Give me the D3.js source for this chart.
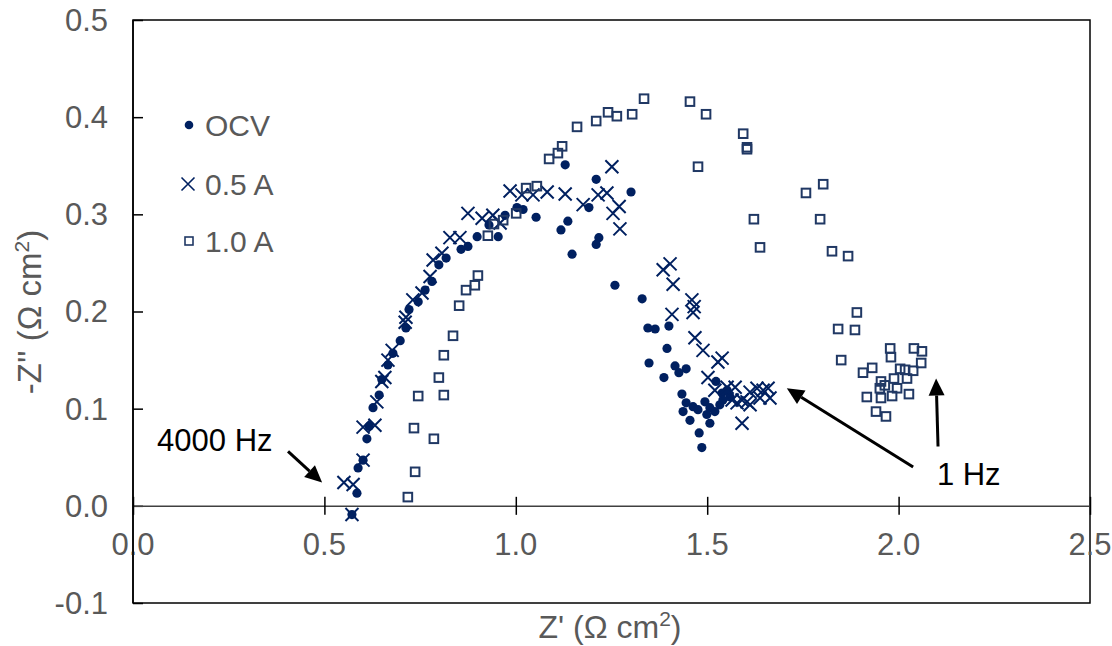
<!DOCTYPE html>
<html><head><meta charset="utf-8">
<script src="https://cdn.jsdelivr.net/npm/d3@7"></script>
<style>body{margin:0;background:#fff}svg{display:block}</style>
</head><body>
<script>
// ---- data ----
const seriesNames = ["OCV", "0.5 A", "1.0 A"];
const xTicks = [0.0, 0.5, 1.0, 1.5, 2.0, 2.5];
const yTicks = [-0.1, 0.0, 0.1, 0.2, 0.3, 0.4, 0.5];
const ocv = [[0.572,-0.009],[0.585,0.013],[0.588,0.039],[0.601,0.047],[0.611,0.069],[0.617,0.082],[0.627,0.101],[0.643,0.114],[0.650,0.130],[0.666,0.145],[0.679,0.157],[0.698,0.170],[0.713,0.183],[0.721,0.202],[0.745,0.210],[0.763,0.222],[0.781,0.231],[0.799,0.248],[0.818,0.255],[0.857,0.264],[0.875,0.267],[0.899,0.277],[0.930,0.289],[0.954,0.277],[0.972,0.299],[1.003,0.307],[1.019,0.305],[1.053,0.297],[1.129,0.351],[1.210,0.336],[1.191,0.307],[1.136,0.293],[1.118,0.284],[1.217,0.276],[1.210,0.269],[1.147,0.259],[1.301,0.323],[1.259,0.227],[1.330,0.213],[1.345,0.183],[1.364,0.182],[1.400,0.185],[1.395,0.162],[1.348,0.147],[1.416,0.144],[1.445,0.141],[1.426,0.137],[1.387,0.132],[1.523,0.128],[1.434,0.115],[1.445,0.106],[1.437,0.097],[1.455,0.088],[1.463,0.102],[1.476,0.099],[1.494,0.107],[1.507,0.101],[1.520,0.097],[1.539,0.116],[1.552,0.119],[1.560,0.112],[1.541,0.109],[1.507,0.085],[1.479,0.075],[1.486,0.060],[1.533,0.104],[1.499,0.094]];
const a05 = [[0.551,0.024],[0.575,0.022],[0.572,-0.009],[0.601,0.047],[0.601,0.081],[0.632,0.083],[0.637,0.107],[0.650,0.128],[0.658,0.132],[0.666,0.150],[0.677,0.160],[0.711,0.189],[0.713,0.194],[0.731,0.212],[0.755,0.219],[0.776,0.236],[0.784,0.253],[0.807,0.260],[0.828,0.276],[0.854,0.276],[0.875,0.301],[0.912,0.296],[0.940,0.299],[0.959,0.291],[0.985,0.324],[1.016,0.320],[1.045,0.320],[1.082,0.323],[1.129,0.321],[1.176,0.310],[1.215,0.320],[1.238,0.322],[1.251,0.349],[1.254,0.301],[1.270,0.308],[1.272,0.285],[1.385,0.243],[1.403,0.249],[1.411,0.228],[1.408,0.197],[1.460,0.212],[1.466,0.205],[1.463,0.199],[1.468,0.173],[1.489,0.160],[1.528,0.148],[1.539,0.152],[1.502,0.132],[1.520,0.119],[1.552,0.122],[1.573,0.122],[1.565,0.109],[1.591,0.109],[1.591,0.085],[1.612,0.117],[1.630,0.121],[1.646,0.119],[1.659,0.121],[1.612,0.104],[1.638,0.111],[1.664,0.111],[1.604,0.107],[1.578,0.106]];
const a10 = [[0.718,0.009],[0.737,0.035],[0.734,0.080],[0.786,0.069],[0.745,0.113],[0.812,0.114],[0.799,0.132],[0.812,0.155],[0.836,0.175],[0.852,0.206],[0.870,0.222],[0.893,0.227],[0.901,0.237],[0.927,0.278],[0.943,0.290],[0.967,0.294],[1.001,0.301],[1.027,0.327],[1.055,0.329],[1.087,0.357],[1.110,0.363],[1.121,0.370],[1.160,0.390],[1.210,0.396],[1.241,0.405],[1.264,0.401],[1.304,0.403],[1.335,0.419],[1.455,0.416],[1.497,0.403],[1.594,0.383],[1.604,0.369],[1.604,0.367],[1.476,0.349],[1.758,0.322],[1.803,0.331],[1.622,0.295],[1.795,0.295],[1.638,0.266],[1.826,0.262],[1.868,0.257],[1.891,0.199],[1.842,0.182],[1.886,0.181],[1.850,0.150],[1.907,0.137],[1.931,0.142],[1.954,0.128],[1.964,0.124],[1.951,0.121],[1.978,0.162],[1.980,0.153],[2.040,0.162],[2.061,0.159],[2.059,0.147],[2.004,0.141],[2.017,0.140],[2.038,0.139],[1.988,0.131],[2.022,0.131],[1.996,0.121],[1.917,0.112],[1.954,0.111],[1.983,0.113],[2.027,0.115],[1.941,0.097],[1.967,0.092]];
const annoLabels = ["4000 Hz", "1 Hz"];
const annoTextPos = [[0.063,0.056],[2.100,0.0216]];
const arrows = [[[0.405,0.056],[0.494,0.024]],[[2.038,0.040],[1.708,0.121]],[[2.103,0.061],[2.098,0.131]]];

// ---- chart ----
const W = 1112, H = 646;
const L = 133, R = 1090, T = 20, B = 603;
const svg = d3.select("body").append("svg").attr("width", W).attr("height", H)
  .style("font-family", "Liberation Sans, Arial, sans-serif");
const x = d3.scaleLinear().domain([0, 2.5]).range([L, R]);
const y = d3.scaleLinear().domain([-0.1, 0.5]).range([B, T]);
const grey = "#595959";
const navy = "#002060";
const sqCol = "#203864";
const fmt = d => d3.format(".1f")(d).replace("\u2212", "-");

// frame
svg.append("rect").attr("x", L).attr("y", T).attr("width", R - L).attr("height", B - T)
  .attr("fill", "none").attr("stroke", "#000").attr("stroke-width", 1.5);

// y axis (ticks inside)
const yAxis = d3.axisRight(y).tickValues(yTicks).tickSize(10).tickFormat("");
const gy = svg.append("g").attr("transform", `translate(${L},0)`).call(yAxis);
gy.select(".domain").remove();
gy.selectAll("line").attr("stroke", "#000").attr("stroke-width", 1.5);
svg.append("g").selectAll("text").data(yTicks).join("text")
  .attr("x", 108).attr("y", d => y(d)).attr("dy", "0.35em")
  .attr("text-anchor", "end").attr("fill", grey).attr("font-size", 31)
  .text(fmt);

// x axis at y = 0 (cross ticks)
const xAxis = d3.axisBottom(x).tickValues(xTicks).tickSize(9).tickSizeOuter(0).tickFormat("");
const gx = svg.append("g").attr("transform", `translate(0,${y(0)})`).call(xAxis);
gx.select(".domain").attr("stroke", "#404040").attr("stroke-width", 1.5);
gx.selectAll(".tick line").attr("y1", -9).attr("y2", 9).attr("stroke", "#000").attr("stroke-width", 1.5);
svg.append("g").selectAll("text").data(xTicks).join("text")
  .attr("x", d => x(d)).attr("y", 555)
  .attr("text-anchor", "middle").attr("fill", grey).attr("font-size", 31)
  .text(fmt);
// y axis line redrawn above "0.0" label
svg.append("line").attr("x1", L).attr("x2", L).attr("y1", T).attr("y2", B)
  .attr("stroke", "#000").attr("stroke-width", 1.5);

// axis titles
const xt = svg.append("text").attr("x", 610).attr("y", 638).attr("text-anchor", "middle")
  .attr("fill", grey).attr("font-size", 32);
xt.append("tspan").text("Z' (Ω cm");
xt.append("tspan").attr("font-size", 21).attr("dy", -12).text("2");
xt.append("tspan").attr("dy", 12).text(")");
const yt = svg.append("text").attr("transform", `translate(41,312) rotate(-90)`).attr("text-anchor", "middle")
  .attr("fill", grey).attr("font-size", 33);
yt.append("tspan").text("-Z'' (Ω cm");
yt.append("tspan").attr("font-size", 21).attr("dy", -12).text("2");
yt.append("tspan").attr("dy", 12).text(")");

// markers
const xPath = s => `M${-s},${-s}L${s},${s}M${-s},${s}L${s},${-s}`;
svg.append("g").selectAll("circle").data(ocv).join("circle")
  .attr("cx", d => x(d[0])).attr("cy", d => y(d[1])).attr("r", 4.6).attr("fill", navy);
svg.append("g").selectAll("path").data(a05).join("path")
  .attr("transform", d => `translate(${x(d[0])},${y(d[1])})`)
  .attr("d", xPath(6.5)).attr("stroke", navy).attr("stroke-width", 2).attr("fill", "none");
svg.append("g").selectAll("rect").data(a10).join("rect")
  .attr("x", d => x(d[0]) - 4.3).attr("y", d => y(d[1]) - 4.3).attr("width", 8.6).attr("height", 8.6)
  .attr("fill", "none").attr("stroke", sqCol).attr("stroke-width", 2);

// legend
const lg = svg.append("g");
const legY = [125, 184, 241];
lg.append("circle").attr("cx", 189).attr("cy", legY[0]).attr("r", 4.3).attr("fill", navy);
lg.append("path").attr("transform", `translate(188,${legY[1]})`).attr("d", xPath(6.5))
  .attr("stroke", navy).attr("stroke-width", 1.6).attr("fill", "none");
lg.append("rect").attr("x", 185).attr("y", legY[2] - 4).attr("width", 8).attr("height", 8)
  .attr("fill", "none").attr("stroke", sqCol).attr("stroke-width", 1.6);
lg.selectAll("text").data(seriesNames).join("text")
  .attr("x", 205).attr("y", (d, i) => legY[i]).attr("dy", "0.36em")
  .attr("fill", grey).attr("font-size", 30).text(d => d);

// annotations
svg.append("g").selectAll("text").data(annoLabels).join("text")
  .attr("x", (d, i) => x(annoTextPos[i][0])).attr("y", (d, i) => y(annoTextPos[i][1]))
  .attr("fill", "#000").attr("font-size", 31).text(d => d);
const ag = svg.append("g");
arrows.forEach(([a, b]) => {
  const x1 = x(a[0]), y1 = y(a[1]), x2 = x(b[0]), y2 = y(b[1]);
  const ang = Math.atan2(y2 - y1, x2 - x1);
  const hl = 17, hw = 8;
  const bx = x2 - hl * Math.cos(ang), by = y2 - hl * Math.sin(ang);
  ag.append("line").attr("x1", x1).attr("y1", y1).attr("x2", bx).attr("y2", by)
    .attr("stroke", "#000").attr("stroke-width", 3);
  const px = -Math.sin(ang), py = Math.cos(ang);
  ag.append("path").attr("d", `M${x2},${y2}L${bx + hw * px},${by + hw * py}L${bx - hw * px},${by - hw * py}Z`)
    .attr("fill", "#000");
});
</script>
</body></html>
